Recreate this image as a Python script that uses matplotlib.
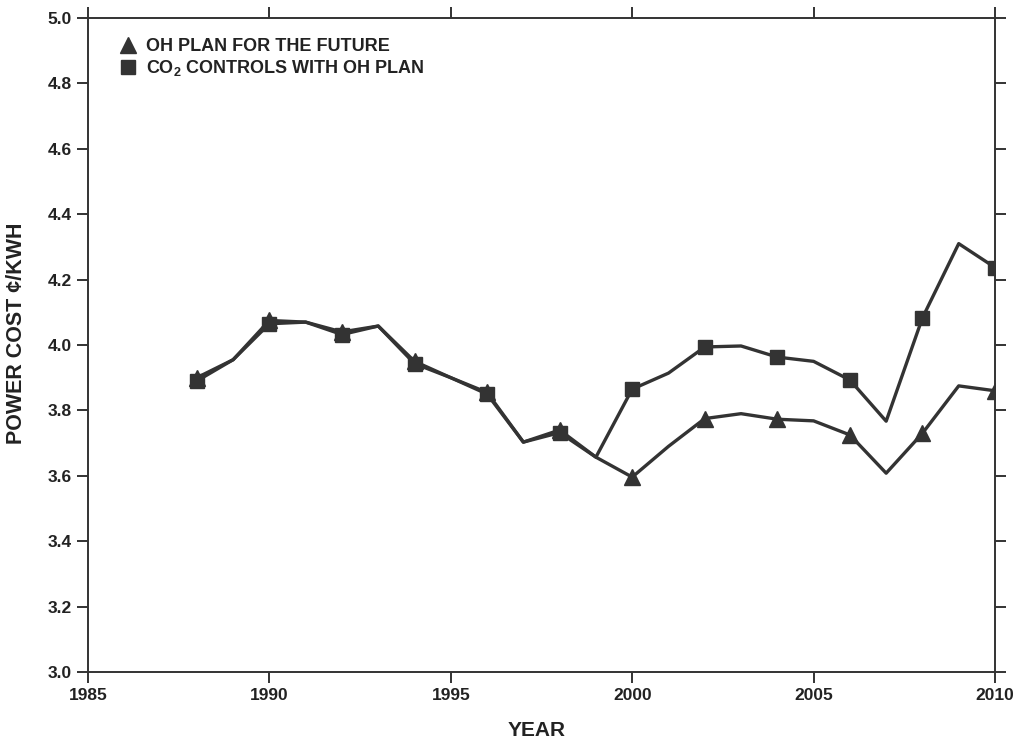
import matplotlib
matplotlib.use("Agg")
import matplotlib.pyplot as plt

plt.rcParams['font.family'] = ['Liberation Sans', 'DejaVu Sans']
plt.rcParams['font.weight'] = 'bold'
plt.rcParams['mathtext.fontset'] = 'custom'
plt.rcParams['mathtext.rm'] = 'Liberation Sans:bold'
plt.rcParams['mathtext.bf'] = 'Liberation Sans:bold'

years = list(range(1988, 2011))
oh_plan = [3.90, 3.955, 4.075, 4.07, 4.04, 4.058, 3.95, 3.90, 3.855, 3.703, 3.74, 3.657,
           3.596, 3.69, 3.775, 3.79, 3.773, 3.768, 3.725, 3.608, 3.73, 3.875, 3.86]
co2_controls = [3.89, 3.955, 4.065, 4.07, 4.032, 4.058, 3.943, 3.90, 3.85, 3.703, 3.732, 3.657,
                3.865, 3.914, 3.994, 3.997, 3.963, 3.95, 3.893, 3.767, 4.083, 4.31, 4.237]
labels = ['OH PLAN FOR THE FUTURE', r'CO$_\mathbf{2}$ CONTROLS WITH OH PLAN']
x_ticks = [1985, 1990, 1995, 2000, 2005, 2010]
y_ticks = [3.0, 3.2, 3.4, 3.6, 3.8, 4.0, 4.2, 4.4, 4.6, 4.8, 5.0]

col = '#333333'
fig = plt.figure(figsize=(10.15, 7.4), dpi=100)
ax = fig.add_axes([88/1015, 1-672/740, (995-88)/1015, (672-18)/740])

ax.plot(years, oh_plan, color=col, lw=2.4, marker='^', ms=11, markevery=2,
        label=labels[0], zorder=3)
ax.plot(years, co2_controls, color=col, lw=2.4, marker='s', ms=9.5, markevery=2,
        label=labels[1], zorder=3)

ax.set_xlim(1985, 2010)
ax.set_ylim(3.0, 5.0)
ax.set_xticks(x_ticks)
ax.set_yticks(y_ticks)
ax.set_yticklabels([f'{v:.1f}' for v in y_ticks])
ax.tick_params(axis='both', which='major', direction='out', length=8, width=1.4,
               color=col, labelsize=12.5, labelcolor='#222222',
               top=True, right=True, labeltop=False, labelright=False)
for s in ax.spines.values():
    s.set_linewidth(1.4)
    s.set_color(col)

ax.set_xlabel('YEAR', fontsize=15, fontweight='bold', color='#222222')
ax.set_ylabel('POWER COST ¢/KWH', fontsize=15.5, fontweight='bold', color='#222222')
ax.xaxis.set_label_coords((537-88)/907, (672-721)/654)
ax.yaxis.set_label_coords((27-88)/907, (672-333.5)/654)

leg = ax.legend(loc='upper left', frameon=False, fontsize=13, handlelength=0.8,
                handletextpad=0.6, labelspacing=0.15, borderaxespad=0.0,
                bbox_to_anchor=(0.028, 0.98))
for t in leg.get_texts():
    t.set_color('#222222')
for h in leg.legend_handles:
    h.set_linestyle('none')

fig.savefig('out.png', dpi=100)
